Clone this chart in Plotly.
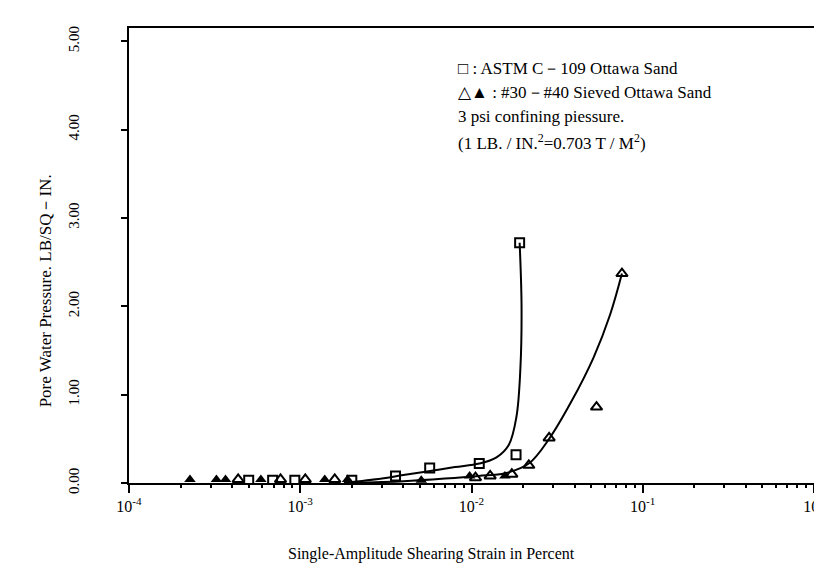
import plotly.graph_objects as go

# ---- data ----
sq_x = [5.0e-4, 6.9e-4, 9.3e-4, 2.0e-3, 3.6e-3, 5.7e-3, 0.0111, 0.0182, 0.0191]
sq_y = [0.03, 0.03, 0.03, 0.03, 0.08, 0.17, 0.22, 0.32, 2.72]

tri_open_x = [4.34e-4, 7.67e-4, 1.07e-3, 1.59e-3, 0.01055, 0.01285, 0.0172, 0.0216, 0.0284, 0.0537, 0.0756]
tri_open_y = [0.04, 0.04, 0.04, 0.04, 0.06, 0.08, 0.10, 0.20, 0.51, 0.86, 2.37]

tri_fill_x = [2.27e-4, 3.24e-4, 3.66e-4, 5.89e-4, 1.39e-3, 1.89e-3, 5.09e-3, 9.75e-3, 0.01567]
tri_fill_y = [0.04, 0.04, 0.04, 0.04, 0.04, 0.04, 0.03, 0.08, 0.08]

sq_fit_x = [1.8e-3, 3.0e-3, 4.0e-3, 5.5e-3, 8.0e-3, 0.0111, 0.0140, 0.0165, 0.0183, 0.0193, 0.0196, 0.0191]
sq_fit_y = [0.0, 0.05, 0.09, 0.13, 0.18, 0.22, 0.29, 0.43, 0.75, 1.3, 2.0, 2.72]

tri_fit_x = [2.0e-3, 4.0e-3, 7.0e-3, 0.0110, 0.0157, 0.0216, 0.0284, 0.038, 0.0516, 0.0646, 0.0756]
tri_fit_y = [0.0, 0.02, 0.05, 0.08, 0.11, 0.22, 0.50, 0.91, 1.42, 1.91, 2.37]

x_tickvals = [1e-4, 1e-3, 1e-2, 1e-1, 1]
x_ticktext = ["10<sup>-4</sup>", "10<sup>-3</sup>", "10<sup>-2</sup>", "10<sup>-1</sup>", "10<sup>0</sup>"]
x_minor = [m * d for d in [1e-4, 1e-3, 1e-2, 1e-1] for m in range(2, 10)]
y_tickvals = [0, 1, 2, 3, 4, 5]
y_ticktext = ["0.00", "1.00", "2.00", "3.00", "4.00", "5.00"]

note_lines = [
    "□ : ASTM C－109 Ottawa Sand",
    "△▲ : #30－#40 Sieved Ottawa Sand",
    "3 psi confining piessure.",
    "(1 LB. / IN.<sup>2</sup>=0.703 T / M<sup>2</sup>)",
]

FONT = "Liberation Serif, DejaVu Serif, serif"

fig = go.Figure()
fig.add_trace(go.Scatter(x=sq_fit_x, y=sq_fit_y, mode="lines",
                         line=dict(color="black", width=2, shape="spline", smoothing=1.0),
                         hoverinfo="skip"))
fig.add_trace(go.Scatter(x=tri_fit_x, y=tri_fit_y, mode="lines",
                         line=dict(color="black", width=2, shape="spline", smoothing=1.0),
                         hoverinfo="skip"))
fig.add_trace(go.Scatter(x=sq_x, y=sq_y, mode="markers",
                         marker=dict(symbol="square-open", size=9, color="black",
                                     line=dict(width=2, color="black"))))
fig.add_trace(go.Scatter(x=tri_open_x, y=tri_open_y, mode="markers",
                         marker=dict(symbol="triangle-up-open", size=10, color="black",
                                     line=dict(width=2, color="black"))))
fig.add_trace(go.Scatter(x=tri_fill_x, y=tri_fill_y, mode="markers",
                         marker=dict(symbol="triangle-up", size=10, color="black")))
# minor ticks via overlaid axis
fig.add_trace(go.Scatter(x=[x_minor[0]], y=[0], xaxis="x2", mode="markers",
                         marker=dict(opacity=0), hoverinfo="skip"))

fig.update_layout(
    width=822, height=574,
    margin=dict(l=121, r=5, t=20, b=99),
    paper_bgcolor="white", plot_bgcolor="white",
    showlegend=False,
    font=dict(family=FONT, color="black", size=15),
    xaxis=dict(type="log", range=[-4, 0], tickvals=x_tickvals, ticktext=x_ticktext,
               ticks="outside", ticklen=8, tickwidth=2, tickcolor="black",
               showgrid=False, zeroline=False, showline=True, linecolor="black",
               linewidth=2, mirror=True, ticklabeloverflow="allow",
               tickfont=dict(size=16, family=FONT)),
    xaxis2=dict(type="log", range=[-4, 0], overlaying="x", anchor="y", side="bottom",
                tickvals=x_minor, showticklabels=False, ticks="outside", ticklen=4,
                tickwidth=1.5, tickcolor="black", showgrid=False, zeroline=False,
                showline=False),
    yaxis=dict(range=[0, 5.15], tickvals=y_tickvals, ticktext=y_ticktext, tickangle=-90,
               ticks="outside", ticklen=6, tickwidth=2, tickcolor="black",
               showgrid=False, zeroline=False, showline=True, linecolor="black",
               linewidth=2, mirror=True, ticklabelstandoff=36,
               tickfont=dict(size=15, family=FONT)),
)

for i, line in enumerate(note_lines):
    fig.add_annotation(xref="paper", yref="paper", x=(453 - 121) / 696,
                       y=1 - (60 + 24.5 * i - 20) / 455, xanchor="left", yanchor="middle",
                       text=line, showarrow=False, font=dict(size=17, family=FONT))

fig.add_annotation(xref="paper", yref="paper", x=(36 - 121) / 696, y=1 - (283 - 20) / 455,
                   text="Pore Water Pressure. LB/SQ－IN.", textangle=-90, showarrow=False,
                   xanchor="center", yanchor="middle", font=dict(size=17, family=FONT))
fig.add_annotation(xref="paper", yref="paper", x=(428 - 121) / 696, y=-(546 - 475) / 455,
                   text="Single-Amplitude Shearing Strain in Percent", showarrow=False,
                   xanchor="center", yanchor="middle", font=dict(size=16, family=FONT))

fig.write_html("out.html")
